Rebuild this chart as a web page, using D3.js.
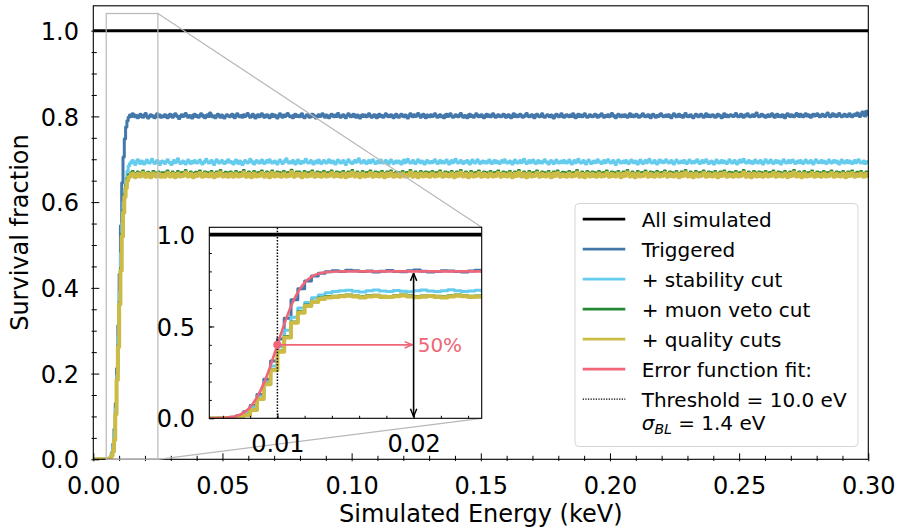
<!DOCTYPE html>
<html>
<head>
<meta charset="utf-8">
<script src="https://cdn.jsdelivr.net/npm/d3@7"></script>
<style>
  body { margin: 0; background: #fff; }
  svg { display: block; }
  text { font-family: "DejaVu Sans", sans-serif; }
</style>
</head>
<body>
<svg id="chart" width="899" height="532"></svg>
<script>
// ---- data (survival fraction per 0.5 eV bin, in per mille) ----
const binWidth = 0.0005; // keV
const allSimulated = 1.0;

const triggered = [
  0,0,0,0,0,0,0,0,0,0,0,0,
  2,6,15,35,70,130,212,312,432,545,645,705,748,775,790,798,
  803,800,806,804,799,802,797,801,805,800,798,803,807,801,796,800,804,802,799,797,802,806,800,803,798,801,
  799,804,802,797,800,805,803,798,801,806,802,799,795,801,804,800,803,807,801,798,802,800,796,803,805,800,
  802,798,801,806,803,799,797,802,804,800,808,803,799,801,797,802,805,801,798,803,800,796,801,804,802,799,
  801,805,800,797,803,806,801,799,802,798,804,800,803,807,802,798,800,805,801,796,802,804,799,801,806,803,
  798,800,804,802,797,801,805,800,803,799,796,802,806,801,798,803,800,804,807,802,799,801,797,803,805,800,
  802,799,803,806,800,797,801,804,802,798,800,805,803,799,796,801,804,800,802,806,801,798,803,800,797,802,
  805,801,799,803,800,807,802,798,801,804,800,797,802,806,803,799,801,805,800,798,803,801,796,802,804,800,
  803,799,801,806,802,798,800,804,801,797,803,805,800,802,798,801,806,803,799,800,804,802,797,801,805,800,
  798,802,805,801,799,803,800,796,802,806,801,799,804,800,802,807,803,798,801,805,800,797,803,801,799,804,
  800,803,806,801,798,802,804,799,801,797,803,805,800,802,806,801,798,800,804,802,799,803,807,801,798,802,
  801,797,803,805,800,802,798,801,806,803,799,800,804,801,797,802,805,800,803,799,801,806,802,798,800,804,
  802,799,801,805,803,798,800,804,801,797,802,806,800,803,799,801,805,802,798,800,803,807,801,799,802,804,
  800,797,803,805,801,799,802,806,800,798,801,804,802,799,803,800,796,802,805,801,799,803,806,800,798,802,
  804,801,799,803,800,806,802,797,801,805,800,803,799,802,806,801,798,800,804,802,799,801,805,803,798,800,
  803,806,801,798,802,800,804,799,801,807,803,800,797,802,805,801,799,803,800,804,802,798,801,806,800,803,
  799,801,805,802,798,800,803,806,801,799,802,804,800,797,803,805,801,798,802,800,804,806,802,799,801,803,
  800,804,801,797,802,806,803,799,801,805,800,802,798,803,807,801,799,802,804,800,797,801,805,803,799,802,
  805,801,798,802,806,800,803,799,801,804,802,798,800,805,803,801,797,802,806,800,803,799,801,804,802,800,
  803,807,801,799,802,805,800,798,803,801,806,802,799,801,804,800,803,808,802,799,801,805,803,800,798,802,
  804,800,802,806,801,798,803,805,800,802,799,804,801,797,803,806,802,800,804,801,799,803,807,802,800,805,
  802,799,803,806,801,804,800,798,803,805,801,802,806,803,799,801,805,802,800,804,808,803,799,802,806,801,
  804,800,803,807,802,799,801,805,803,800,804,806,801,799,803,805,802,808,804,800,806,810,803,801,812,805
];

const stabilityCut = [
  0,0,0,0,0,0,0,0,0,0,0,0,
  2,5,13,31,62,118,195,285,390,480,550,600,630,656,672,684,
  690,694,697,692,688,695,699,693,690,696,692,689,694,698,693,691,695,700,694,690,693,697,692,688,694,696,
  693,690,695,699,694,691,688,693,697,692,695,701,694,690,693,696,692,689,694,698,693,690,695,692,697,694,
  691,695,698,693,689,692,696,700,694,691,693,697,692,688,694,699,695,691,693,697,694,690,692,696,699,693,
  695,692,689,694,698,693,690,696,692,688,693,697,695,691,694,700,696,692,689,694,697,693,691,695,698,692,
  690,694,697,693,699,695,691,693,696,692,689,694,698,694,690,693,697,701,695,691,694,692,697,693,689,695,
  698,693,690,695,692,696,700,694,691,693,697,692,689,694,696,692,698,694,690,693,697,695,691,694,699,693,
  692,696,693,689,694,698,695,691,693,697,692,688,694,699,695,692,690,694,697,693,696,701,695,691,693,697,
  694,690,693,697,692,695,699,694,690,693,696,692,698,694,691,693,697,692,689,695,698,694,690,693,696,692,
  696,693,689,694,698,692,695,700,694,691,693,697,692,690,694,699,695,692,696,693,689,694,697,693,691,695,
  692,696,699,694,690,693,697,692,695,691,694,698,693,689,694,697,692,696,700,694,691,693,697,694,690,695,
  693,697,692,689,694,698,693,691,695,699,694,690,693,696,692,695,691,694,698,693,690,695,697,692,696,693,
  690,694,697,693,699,694,691,693,696,692,689,695,698,693,691,694,697,692,695,700,694,690,693,697,692,695,
  698,693,690,694,697,692,695,691,694,699,695,692,689,694,697,693,690,695,698,693,691,694,696,692,697,694,
  691,695,698,693,689,694,697,692,696,700,694,691,693,697,692,689,695,698,694,690,693,696,692,695,699,693,
  694,690,693,697,692,696,699,694,691,693,697,692,688,694,698,695,691,693,696,692,697,694,690,693,698,694,
  692,696,693,689,695,698,693,690,694,697,692,695,700,694,691,693,697,692,689,694,698,693,696,692,695,699,
  694,691,693,697,692,689,694,698,695,691,693,696,692,697,694,690,693,698,694,691,695,692,696,699,694,690,
  693,697,692,695,699,694,690,693,696,692,689,694,698,693,691,695,697,692,696,693,690,694,699,695,691,693,
  697,692,689,694,698,693,696,700,694,691,693,697,692,695,690,694,698,693,691,695,697,692,689,694,699,694,
  691,695,698,693,690,694,697,692,696,693,689,695,699,694,691,693,697,692,695,698,694,690,693,696,692,697,
  694,690,693,698,694,691,695,697,692,689,694,699,695,692,693,697,692,696,694,690,693,698,694,691,695,697,
  693,696,692,689,694,698,693,691,695,697,692,696,694,690,693,697,692,695,699,694,691,693,696,690,692,695
];

const muonVetoCut = [
  0,0,0,0,0,0,0,0,0,0,0,0,
  1,3,9,19,46,107,188,266,367,446,526,581,618,639,656,664,
  665,669,672,667,663,668,671,666,664,669,673,668,664,667,670,666,663,668,672,669,665,667,671,666,664,669,
  668,664,670,673,668,665,667,671,666,663,668,672,667,664,669,666,670,674,668,665,667,671,666,663,668,670,
  666,670,673,668,664,667,671,666,669,665,668,672,667,663,668,671,666,669,674,668,665,667,670,666,664,669,
  671,667,664,668,672,667,665,669,666,670,674,668,664,667,671,666,663,668,672,667,665,669,666,670,673,668,
  664,668,671,667,663,669,673,668,665,667,671,666,669,664,668,672,667,665,669,666,670,675,668,664,667,671,
  667,671,666,663,668,672,667,665,669,666,670,673,668,664,667,671,666,669,664,668,672,667,665,669,666,670,
  673,668,665,667,671,666,669,664,668,672,667,663,668,671,666,670,674,668,665,667,671,666,663,668,672,667,
  665,669,666,670,673,668,664,667,671,666,669,665,668,672,667,663,668,671,666,670,673,668,664,667,670,666,
  669,664,668,672,667,665,669,666,670,674,668,664,667,671,666,663,668,672,669,665,667,671,666,669,664,668,
  672,667,665,669,666,670,673,668,664,667,671,666,669,665,668,672,667,663,668,671,666,670,674,668,665,667,
  671,666,663,668,672,667,665,669,666,670,673,668,664,667,671,666,669,664,668,672,667,665,669,666,670,673,
  668,664,667,671,666,669,665,668,672,667,663,668,671,666,670,674,668,665,667,671,666,663,668,672,667,665,
  669,666,670,673,668,664,667,671,666,669,665,668,672,667,663,668,671,666,670,673,668,664,667,670,666,669,
  664,668,672,667,665,669,666,670,674,668,664,667,671,666,663,668,672,669,665,667,671,666,669,664,668,672,
  667,665,669,666,670,673,668,664,667,671,666,669,665,668,672,667,663,668,671,666,670,674,668,665,667,671,
  666,663,668,672,667,665,669,666,670,673,668,664,667,671,666,669,664,668,672,667,665,669,666,670,673,668,
  664,667,671,666,669,665,668,672,667,663,668,671,666,670,674,668,665,667,671,666,663,668,672,667,665,669,
  666,670,673,668,664,667,671,666,669,665,668,672,667,663,668,671,666,670,673,668,664,667,670,666,669,664,
  668,672,667,665,669,666,670,674,668,664,667,671,666,663,668,672,669,665,667,671,666,669,664,668,672,667,
  665,669,666,670,673,668,664,667,671,666,669,665,668,672,667,663,668,671,666,670,674,668,665,667,671,666,
  663,668,672,667,665,669,666,670,673,668,664,667,671,666,669,664,668,672,667,665,669,666,670,673,668,664,
  667,671,666,669,665,668,672,667,663,668,671,666,670,673,668,664,667,670,666,669,672,667,664,668,671,666
];

const qualityCuts = [
  0,0,0,0,0,0,0,0,0,0,0,0,
  1,3,9,18,45,105,185,262,362,440,520,575,612,633,650,658,
  660,664,667,663,658,663,666,661,660,664,668,663,659,662,666,661,658,663,667,664,660,662,666,661,659,664,
  663,659,665,668,664,660,662,666,661,658,663,667,662,660,664,661,665,669,663,660,662,666,661,658,663,665,
  661,665,668,663,659,662,666,661,664,660,663,667,662,658,663,666,661,664,669,663,660,662,665,661,659,664,
  666,662,659,663,667,662,660,664,661,665,669,663,659,662,666,661,658,663,667,662,660,664,661,665,668,663,
  659,663,666,662,658,664,668,663,660,662,666,661,664,659,663,667,662,660,664,661,665,670,663,659,662,666,
  662,666,661,658,663,667,662,660,664,661,665,668,663,659,662,666,661,664,659,663,667,662,660,664,661,665,
  668,663,660,662,666,661,664,659,663,667,662,658,663,666,661,665,669,663,660,662,666,661,658,663,667,662,
  660,664,661,665,668,663,659,662,666,661,664,660,663,667,662,658,663,666,661,665,668,663,659,662,665,661,
  664,659,663,667,662,660,664,661,665,669,663,659,662,666,661,658,663,667,664,660,662,666,661,664,659,663,
  667,662,660,664,661,665,668,663,659,662,666,661,664,660,663,667,662,658,663,666,661,665,669,663,660,662,
  666,661,658,663,667,662,660,664,661,665,668,663,659,662,666,661,664,659,663,667,662,660,664,661,665,668,
  663,659,662,666,661,664,660,663,667,662,658,663,666,661,665,669,663,660,662,666,661,658,663,667,662,660,
  664,661,665,668,663,659,662,666,661,664,660,663,667,662,658,663,666,661,665,668,663,659,662,665,661,664,
  659,663,667,662,660,664,661,665,669,663,659,662,666,661,658,663,667,664,660,662,666,661,664,659,663,667,
  662,660,664,661,665,668,663,659,662,666,661,664,660,663,667,662,658,663,666,661,665,669,663,660,662,666,
  661,658,663,667,662,660,664,661,665,668,663,659,662,666,661,664,659,663,667,662,660,664,661,665,668,663,
  659,662,666,661,664,660,663,667,662,658,663,666,661,665,669,663,660,662,666,661,658,663,667,662,660,664,
  661,665,668,663,659,662,666,661,664,660,663,667,662,658,663,666,661,665,668,663,659,662,665,661,664,659,
  663,667,662,660,664,661,665,669,663,659,662,666,661,658,663,667,664,660,662,666,661,664,659,663,667,662,
  660,664,661,665,668,663,659,662,666,661,664,660,663,667,662,658,663,666,661,665,669,663,660,662,666,661,
  658,663,667,662,660,664,661,665,668,663,659,662,666,661,664,659,663,667,662,660,664,661,665,668,663,659,
  662,666,661,664,660,663,667,662,658,663,666,661,665,668,663,659,662,665,661,664,667,662,659,663,666,661
];

// error function fit, sampled every 0.5 eV from 5 eV to 25 eV
const fitStart = 0.005, fitStep = 0.0005;
const fitCurve = [
  0.0001,0.0006,0.0017,0.0049,0.0131,0.0297,0.0614,0.1135,0.1902,0.2884,
  0.4000,0.5116,0.6098,0.6865,0.7386,0.7703,0.7869,0.7951,0.7983,0.7994,
  0.7998,0.8,0.8,0.8,0.8,0.8,0.8,0.8,0.8,0.8,
  0.8,0.8,0.8,0.8,0.8,0.8,0.8,0.8,0.8,0.8,0.8
];
const threshold = 0.010;   // keV
const halfPoint = 0.40;    // 50% of plateau
const plateau = 0.80;
const arrowEnd = 0.0199;

const mainXTicks = [0, 0.05, 0.10, 0.15, 0.20, 0.25, 0.30];
const mainYTicks = [0, 0.2, 0.4, 0.6, 0.8, 1.0];
const insetXTicks = [0.01, 0.02];
const insetYTicks = [0, 0.5, 1.0];

const legendLabels = ["All simulated", "Triggered", "+ stability cut", "+ muon veto cut",
  "+ quality cuts", "Error function fit:", "Threshold = 10.0 eV"];

// ---- style ----
const C = { black: "#000000", blue: "#4477AA", cyan: "#66CCEE", green: "#228833", yellow: "#CCBB44", red: "#EE6677" };
const series = [
  { vals: triggered, color: C.blue, w: 3 },
  { vals: stabilityCut, color: C.cyan, w: 3 },
  { vals: muonVetoCut, color: C.green, w: 2.6 },
  { vals: qualityCuts, color: C.yellow, w: 4 }
];

const svg = d3.select("#chart");
const defs = svg.append("defs");
svg.append("rect").attr("width", 899).attr("height", 532).attr("fill", "#fff");

const M = { left: 93.3, right: 868.3, top: 5.8, bottom: 459.3 };
const x = d3.scaleLinear().domain([0, 0.3]).range([M.left, M.right]);
const y = d3.scaleLinear().domain([0, 1.058]).range([M.bottom, M.top]);

const I = { left: 209.3, right: 481.7, top: 227.3, bottom: 418.3 };
const xi = d3.scaleLinear().domain([0.005, 0.025]).range([I.left, I.right]);
const yi = d3.scaleLinear().domain([0, 1.04]).range([I.bottom, I.top]);

defs.append("clipPath").attr("id", "clipMain").append("rect")
  .attr("x", M.left).attr("y", M.top).attr("width", M.right - M.left).attr("height", M.bottom - M.top);
defs.append("clipPath").attr("id", "clipInset").append("rect")
  .attr("x", I.left).attr("y", I.top).attr("width", I.right - I.left).attr("height", I.bottom - I.top);

function makeHead(id, color) {
  defs.append("marker").attr("id", id)
    .attr("viewBox", "0 0 10 10").attr("refX", 9.5).attr("refY", 5)
    .attr("markerWidth", 9).attr("markerHeight", 9).attr("markerUnits", "userSpaceOnUse")
    .attr("orient", "auto-start-reverse")
    .append("path").attr("d", "M1,1.5 L9.5,5 L1,8.5")
    .attr("fill", "none").attr("stroke", color).attr("stroke-width", 1.6);
}
makeHead("headRed", C.red);
makeHead("headBlack", C.black);

function stepPts(vals) {
  const pts = vals.map((v, i) => [i * binWidth, v / 1000]);
  pts.push([vals.length * binWidth, vals[vals.length - 1] / 1000]);
  return pts;
}

function drawCurves(g, sx, sy, blackW) {
  g.append("line")
    .attr("x1", sx.range()[0]).attr("x2", sx.range()[1])
    .attr("y1", sy(allSimulated)).attr("y2", sy(allSimulated))
    .attr("stroke", C.black).attr("stroke-width", blackW);
  const line = d3.line().curve(d3.curveStepAfter).x(d => sx(d[0])).y(d => sy(d[1]));
  series.forEach(s => {
    g.append("path").datum(stepPts(s.vals)).attr("d", line)
      .attr("fill", "none").attr("stroke", s.color).attr("stroke-width", s.w)
      .attr("stroke-linejoin", "round");
  });
}

function styleAxis(g, size) {
  g.attr("font-size", size).attr("font-family", "DejaVu Sans").attr("color", "#000");
  g.select(".domain").remove();
}

// ---- main axes ----
const gMain = svg.append("g").attr("clip-path", "url(#clipMain)");
drawCurves(gMain, x, y, 3);

const gx = svg.append("g").attr("transform", `translate(0,${M.bottom})`);
gx.call(d3.axisBottom(x).tickValues(mainXTicks).tickFormat(d3.format(".2f"))
  .tickSizeInner(-6).tickSizeOuter(0).tickPadding(17.4));
styleAxis(gx, 24);
svg.append("g").attr("transform", `translate(0,${M.bottom})`)
  .call(d3.axisBottom(x).tickValues(mainXTicks).tickFormat("").tickSize(2))
  .call(g => styleAxis(g, 10));
svg.append("g").attr("transform", `translate(0,${M.bottom})`)
  .call(d3.axisBottom(x).tickValues(d3.range(0.01, 0.3, 0.01).filter(v => Math.abs(v * 20 - Math.round(v * 20)) > 1e-6))
    .tickFormat("").tickSizeInner(-3.5).tickSizeOuter(0))
  .call(g => styleAxis(g, 10));
svg.append("g").attr("transform", `translate(0,${M.bottom})`)
  .call(d3.axisBottom(x).tickValues(d3.range(0.01, 0.3, 0.01).filter(v => Math.abs(v * 20 - Math.round(v * 20)) > 1e-6))
    .tickFormat("").tickSize(1.7))
  .call(g => styleAxis(g, 10));

const gy = svg.append("g").attr("transform", `translate(${M.left},0)`);
gy.call(d3.axisLeft(y).tickValues(mainYTicks).tickFormat(d3.format(".1f"))
  .tickSizeInner(-6).tickSizeOuter(0).tickPadding(14.3));
styleAxis(gy, 24);
gy.selectAll("text").attr("dy", "0.36em");
svg.append("g").attr("transform", `translate(${M.left},0)`)
  .call(d3.axisLeft(y).tickValues(mainYTicks).tickFormat("").tickSize(2))
  .call(g => styleAxis(g, 10));
const yMinor = d3.range(0.05, 1.05, 0.05).filter(v => Math.abs(v * 5 - Math.round(v * 5)) > 1e-6);
svg.append("g").attr("transform", `translate(${M.left},0)`)
  .call(d3.axisLeft(y).tickValues(yMinor).tickFormat("").tickSizeInner(-3.5).tickSizeOuter(0))
  .call(g => styleAxis(g, 10));
svg.append("g").attr("transform", `translate(${M.left},0)`)
  .call(d3.axisLeft(y).tickValues(yMinor).tickFormat("").tickSize(1.7))
  .call(g => styleAxis(g, 10));

svg.append("rect").attr("x", M.left).attr("y", M.top)
  .attr("width", M.right - M.left).attr("height", M.bottom - M.top)
  .attr("fill", "none").attr("stroke", "#000").attr("stroke-width", 1.1);

svg.append("text").attr("x", (M.left + M.right) / 2).attr("y", 522)
  .attr("text-anchor", "middle").attr("font-size", 24).text("Simulated Energy (keV)");
svg.append("text").attr("transform", `translate(28.3,${(M.top + M.bottom) / 2}) rotate(-90)`)
  .attr("text-anchor", "middle").attr("font-size", 24).text("Survival fraction");

// ---- zoom indicator ----
const zoomBox = { x0: xi.domain()[0], x1: xi.domain()[1], y1: yi.domain()[1] };
const gray = "#b8b8b8";
svg.append("rect").attr("x", x(zoomBox.x0)).attr("y", y(zoomBox.y1))
  .attr("width", x(zoomBox.x1) - x(zoomBox.x0)).attr("height", y(0) - y(zoomBox.y1))
  .attr("fill", "none").attr("stroke", gray).attr("stroke-width", 1.2);
svg.append("line").attr("x1", x(zoomBox.x1)).attr("y1", y(zoomBox.y1))
  .attr("x2", I.right).attr("y2", I.top).attr("stroke", gray).attr("stroke-width", 1.2);
svg.append("line").attr("x1", x(zoomBox.x1)).attr("y1", y(0))
  .attr("x2", I.right).attr("y2", I.bottom).attr("stroke", gray).attr("stroke-width", 1.2);

// ---- inset ----
svg.append("rect").attr("x", I.left).attr("y", I.top)
  .attr("width", I.right - I.left).attr("height", I.bottom - I.top).attr("fill", "#fff");
const gIn = svg.append("g").attr("clip-path", "url(#clipInset)");
drawCurves(gIn, xi, yi, 3.6);
gIn.append("path")
  .datum(fitCurve.map((v, i) => [fitStart + i * fitStep, v]))
  .attr("d", d3.line().curve(d3.curveMonotoneX).x(d => xi(d[0])).y(d => yi(d[1])))
  .attr("fill", "none").attr("stroke", C.red).attr("stroke-width", 2.6);
gIn.append("line").attr("x1", xi(threshold)).attr("x2", xi(threshold))
  .attr("y1", I.bottom).attr("y2", I.top)
  .attr("stroke", "#000").attr("stroke-width", 1.5).attr("stroke-dasharray", "1.5,1.6");
gIn.append("line").attr("x1", xi(threshold)).attr("x2", xi(arrowEnd))
  .attr("y1", yi(halfPoint)).attr("y2", yi(halfPoint))
  .attr("stroke", C.red).attr("stroke-width", 1.6).attr("marker-end", "url(#headRed)");
gIn.append("circle").attr("cx", xi(threshold)).attr("cy", yi(halfPoint)).attr("r", 4.2).attr("fill", C.red);
gIn.append("line").attr("x1", xi(0.02)).attr("x2", xi(0.02))
  .attr("y1", yi(0.01)).attr("y2", yi(plateau - 0.01))
  .attr("stroke", "#000").attr("stroke-width", 1.6)
  .attr("marker-start", "url(#headBlack)").attr("marker-end", "url(#headBlack)");
svg.append("text").attr("x", xi(0.0203)).attr("y", yi(halfPoint)).attr("dy", "0.36em")
  .attr("font-size", 20).attr("fill", C.red).text("50%");

const gix = svg.append("g").attr("transform", `translate(0,${I.bottom})`);
gix.call(d3.axisBottom(xi).tickValues(insetXTicks).tickFormat(d3.format(".2f"))
  .tickSizeInner(-5).tickSizeOuter(0).tickPadding(16.7));
styleAxis(gix, 24);
svg.append("g").attr("transform", `translate(0,${I.bottom})`)
  .call(d3.axisBottom(xi).tickValues(d3.range(0.006, 0.025, 0.002)).tickFormat("").tickSizeInner(-2.5).tickSizeOuter(0))
  .call(g => styleAxis(g, 10));
const giy = svg.append("g").attr("transform", `translate(${I.left},0)`);
giy.call(d3.axisLeft(yi).tickValues(insetYTicks).tickFormat(d3.format(".1f"))
  .tickSizeInner(-5).tickSizeOuter(0).tickPadding(14.3));
styleAxis(giy, 24);
giy.selectAll("text").attr("dy", "0.36em");
svg.append("g").attr("transform", `translate(${I.left},0)`)
  .call(d3.axisLeft(yi).tickValues(d3.range(0.1, 1.0, 0.1)).tickFormat("").tickSizeInner(-2.5).tickSizeOuter(0))
  .call(g => styleAxis(g, 10));
svg.append("rect").attr("x", I.left).attr("y", I.top)
  .attr("width", I.right - I.left).attr("height", I.bottom - I.top)
  .attr("fill", "none").attr("stroke", "#000").attr("stroke-width", 1.1);

// ---- legend ----
const legend = svg.append("g");
legend.append("rect").attr("x", 575).attr("y", 203.5).attr("width", 283).attr("height", 243)
  .attr("rx", 4).attr("fill", "#fff").attr("fill-opacity", 0.85)
  .attr("stroke", "#d6d6d6").attr("stroke-width", 1);
const handles = [
  { color: C.black, w: 2.7 }, { color: C.blue, w: 2.7 }, { color: C.cyan, w: 2.7 },
  { color: C.green, w: 2.7 }, { color: C.yellow, w: 2.7 }, { color: C.red, w: 2.7 },
  { color: C.black, w: 1.3, dash: "1.3,1.3" }
];
legendLabels.forEach((lab, i) => {
  const base = 226.6 + i * 30;
  const h = handles[i];
  legend.append("line").attr("x1", 582.7).attr("x2", 625.3)
    .attr("y1", base - 7.5).attr("y2", base - 7.5)
    .attr("stroke", h.color).attr("stroke-width", h.w)
    .attr("stroke-dasharray", h.dash || null);
  legend.append("text").attr("x", 641.7).attr("y", base).attr("font-size", 20).text(lab);
});
const sig = legend.append("text").attr("x", 641.7).attr("y", 429.5).attr("font-size", 20);
sig.append("tspan").attr("font-style", "italic").text("σ");
sig.append("tspan").attr("font-style", "italic").attr("font-size", 14).attr("dy", 4).text("BL");
sig.append("tspan").attr("dy", -4).text(" = 1.4 eV");
</script>
</body>
</html>
